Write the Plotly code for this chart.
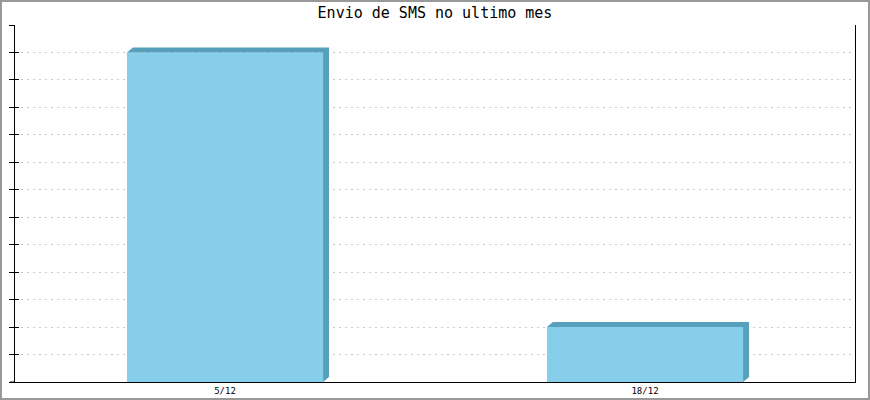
import plotly.graph_objects as go

categories = ["5/12", "18/12"]
values = [12, 2]
title_text = "Envio de SMS no ultimo mes"

W, H = 870, 400
ML, MR, MT, MB = 15, 15, 25, 18
PW, PH = W - ML - MR, H - MT - MB
YMAX = 13
XR = [-0.5, len(categories) - 0.5]
bar_w = 0.467
front = "#87ceeb"
side = "#56a0bb"

xs = list(range(len(categories)))
dx = 6 * (XR[1] - XR[0]) / PW
dy = 5 * YMAX / PH

fig = go.Figure()
for x, v in zip(xs, values):
    L, R = x - bar_w / 2, x + bar_w / 2
    fig.add_trace(go.Scatter(
        x=[L, L + dx, R + dx, R + dx, R, R, L],
        y=[v, v + dy, v + dy, dy, 0, v, v],
        fill="toself", fillcolor=side, mode="lines",
        line=dict(width=0, color=side), hoverinfo="skip", showlegend=False))
fig.add_trace(go.Bar(x=xs, y=values, width=bar_w, marker=dict(color=front, line=dict(width=0)),
                     showlegend=False))
fig.add_trace(go.Scatter(x=[0], y=[0], yaxis="y2", mode="markers", marker=dict(opacity=0),
                         showlegend=False, hoverinfo="skip"))

fig.update_layout(
    width=W, height=H, autosize=False,
    margin=dict(l=ML, r=MR, t=MT, b=MB, pad=0, autoexpand=False),
    paper_bgcolor="white", plot_bgcolor="white",
    title=dict(text=title_text, x=0.5, xanchor="center", y=1 - 13 / H, yanchor="middle",
               font=dict(family="DejaVu Sans Mono", size=15, color="black")),
    xaxis=dict(range=XR, tickvals=xs, ticktext=categories, showgrid=False, zeroline=False,
               showline=True, linecolor="black", linewidth=1, ticks="", automargin=False,
               tickfont=dict(family="DejaVu Sans Mono", size=9, color="black")),
    yaxis=dict(range=[0, YMAX], dtick=1, showticklabels=False, ticks="outside", ticklen=5,
               tickcolor="black", showline=True, linecolor="black", linewidth=1, mirror=True,
               showgrid=True, gridcolor="#c8c8c8", griddash="2px,4px", zeroline=False,
               automargin=False),
    yaxis2=dict(range=[0, YMAX], dtick=1, overlaying="y", side="left", showticklabels=False,
                ticks="inside", ticklen=4, tickcolor="black", showgrid=False, showline=False,
                zeroline=False, automargin=False),
    shapes=[
        dict(type="rect", xref="paper", yref="paper",
             x0=-(ML - 1) / PW, x1=1 + (MR - 1) / PW, y0=-(MB - 1) / PH, y1=1 + (MT - 1) / PH,
             line=dict(color="#999999", width=2)),
        dict(type="line", xref="paper", yref="paper", x0=-5 / PW, x1=0, y0=0, y1=0,
             line=dict(color="black", width=1)),
    ],
)
fig.write_html(
    "out.html",
    config={"displayModeBar": False, "responsive": False},
    post_script="document.body.style.margin='0';document.body.style.overflow='hidden';",
)
